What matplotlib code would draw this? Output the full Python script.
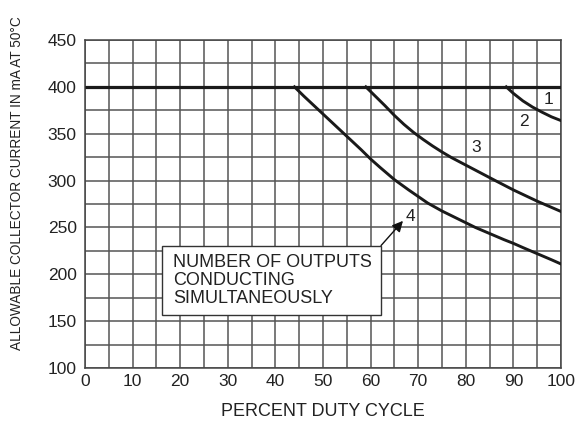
import matplotlib
matplotlib.use("Agg")
import matplotlib.pyplot as plt
from matplotlib.patches import Rectangle

plt.rcParams['font.family'] = ['Liberation Sans', 'DejaVu Sans']

# ---- data ----
duty_1 = [0, 100]
curr_1 = [400, 400]

duty_2 = [88.5, 90, 92, 94, 96, 98, 100]
curr_2 = [400, 393, 385, 378.5, 373, 368, 364]

duty_3 = [59, 61, 63, 65, 67, 69, 71, 73, 75, 77, 80, 83, 86, 90, 95, 100]
curr_3 = [400, 390, 380, 369.5, 360, 351.5, 344, 337, 330.5, 324.5, 316.5, 308.5, 300.5, 290, 278, 267]

duty_4 = [44, 46, 48, 50, 52, 54, 56, 58, 60, 62, 65, 68, 70, 72, 75, 78, 80, 82, 85, 88, 90, 92, 95, 98, 100]
curr_4 = [400, 390, 380.5, 371, 361.5, 352, 342.5, 333, 323, 314, 301, 290, 283, 276, 267.5, 260, 255, 250,
          243.5, 237, 233, 228.5, 222, 215.5, 211]

curve_labels = ["1", "2", "3", "4"]
label_x = [97.3, 92.2, 82.1, 68.3]
label_y = [387, 362.5, 335, 261.8]

x_ticks = list(range(0, 101, 10))
y_ticks = list(range(100, 451, 50))
box_lines = ["NUMBER OF OUTPUTS", "CONDUCTING", "SIMULTANEOUSLY"]

# ---- figure ----
fig = plt.figure(figsize=(5.87, 4.28), dpi=100)
ax = fig.add_axes([85 / 587, 60 / 428, 476 / 587, 328 / 428])

ax.set_xlim(0, 100)
ax.set_ylim(100, 450)
ax.set_xticks(x_ticks)
ax.set_yticks(y_ticks)
ax.set_xticks(range(0, 101, 5), minor=True)
ax.set_yticks(range(100, 451, 25), minor=True)
ax.tick_params(which='both', length=0, labelsize=12.5, colors='#222222')
ax.tick_params(axis='x', pad=4)
ax.tick_params(axis='y', pad=6)
ax.grid(True, which='both', color='#555555', lw=1.1)
ax.set_axisbelow(True)
for s in ax.spines.values():
    s.set_color('#444444')
    s.set_linewidth(1.1)

lc = '#1a1a1a'
ax.plot(duty_1, curr_1, color=lc, lw=2.3, zorder=3, solid_capstyle='butt')
ax.plot(duty_2, curr_2, color=lc, lw=2.1, zorder=3)
ax.plot(duty_3, curr_3, color=lc, lw=2.1, zorder=3)
ax.plot(duty_4, curr_4, color=lc, lw=2.1, zorder=3)

for t, x, y in zip(curve_labels, label_x, label_y):
    ax.text(x, y, t, fontsize=12.5, ha='center', va='center', color='#222222', zorder=4)

# legend-like box
ax.add_patch(Rectangle((16.25, 156.3), 62.2 - 16.25, 230.7 - 156.3, facecolor='white',
                       edgecolor='#333333', lw=1.0, zorder=5))
for txt, y in zip(box_lines, [212.3, 193.7, 174.5]):
    ax.text(18.5, y, txt, fontsize=13, ha='left', va='center', color='#222222', zorder=6)

ax.annotate("", xy=(66.8, 257), xytext=(62.2, 230.7),
            arrowprops=dict(arrowstyle='-|>', mutation_scale=16, lw=1.0, color='#111111',
                            shrinkA=0, shrinkB=0), zorder=6)

fig.text(323 / 587, 1 - 412 / 428, "PERCENT DUTY CYCLE", fontsize=13, ha='center', va='center',
         color='#222222')
fig.text(17 / 587, 1 - 183 / 428, "ALLOWABLE COLLECTOR CURRENT IN mA AT 50°C", fontsize=9.8,
         rotation=90, ha='center', va='center', color='#222222')

fig.savefig("out.png", dpi=100)
